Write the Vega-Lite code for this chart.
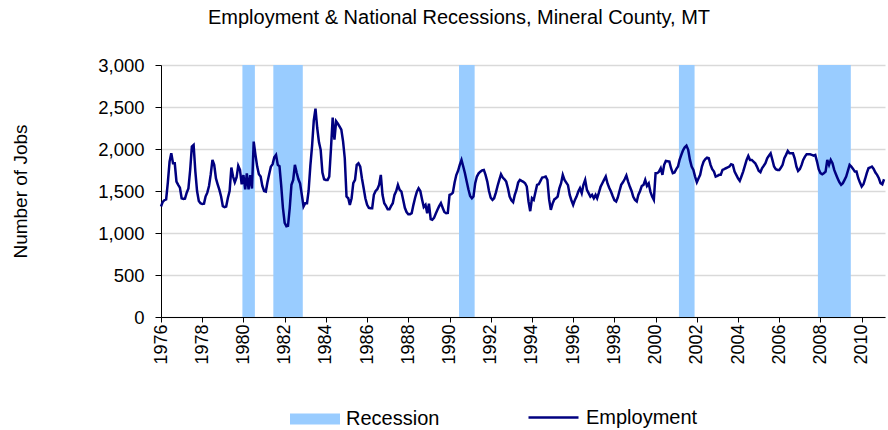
{
  "$schema": "https://vega.github.io/schema/vega-lite/v6.json",
  "width": 724,
  "height": 252,
  "autosize": {"type": "none"},
  "padding": {"left": 161, "top": 65, "right": 3, "bottom": 113},
  "background": "white",
  "title": {"text": "Employment & National Recessions, Mineral County, MT", "font": "Liberation Sans", "fontSize": 20, "fontWeight": "normal", "color": "black", "anchor": "middle", "frame": "group", "dx": -64, "offset": 28},
  "config": {
    "view": {"stroke": null},
    "font": "Liberation Sans",
    "axis": {"labelFont": "Liberation Sans", "titleFont": "Liberation Sans", "labelColor": "black", "titleColor": "black", "domainColor": "black", "tickColor": "black", "domainWidth": 1, "tickWidth": 1},
    "legend": {"labelFont": "Liberation Sans", "labelColor": "black"}
  },
  "datasets": {
    "recessions": [
      {"start": "1979-12-14", "end": "1980-07-22"},
      {"start": "1981-06-14", "end": "1982-11-18"},
      {"start": "1990-06-18", "end": "1991-03-22"},
      {"start": "2001-02-18", "end": "2001-11-22"},
      {"start": "2007-11-17", "end": "2009-06-22"}
    ],
    "employment": [
      {"date":"1976-01","jobs":1315},{"date":"1976-02","jobs":1370},{"date":"1976-03","jobs":1390},{"date":"1976-04","jobs":1400},{"date":"1976-05","jobs":1600},{"date":"1976-06","jobs":1850},{"date":"1976-07","jobs":1949},{"date":"1976-08","jobs":1830},{"date":"1976-09","jobs":1830},{"date":"1976-10","jobs":1612},{"date":"1976-11","jobs":1573},{"date":"1976-12","jobs":1540},
      {"date":"1977-01","jobs":1414},{"date":"1977-02","jobs":1406},{"date":"1977-03","jobs":1410},{"date":"1977-04","jobs":1480},{"date":"1977-05","jobs":1530},{"date":"1977-06","jobs":1750},{"date":"1977-07","jobs":2029},{"date":"1977-08","jobs":2048},{"date":"1977-09","jobs":1731},{"date":"1977-10","jobs":1500},{"date":"1977-11","jobs":1380},{"date":"1977-12","jobs":1355},
      {"date":"1978-01","jobs":1345},{"date":"1978-02","jobs":1350},{"date":"1978-03","jobs":1434},{"date":"1978-04","jobs":1480},{"date":"1978-05","jobs":1560},{"date":"1978-06","jobs":1700},{"date":"1978-07","jobs":1870},{"date":"1978-08","jobs":1811},{"date":"1978-09","jobs":1650},{"date":"1978-10","jobs":1580},{"date":"1978-11","jobs":1513},{"date":"1978-12","jobs":1434},
      {"date":"1979-01","jobs":1320},{"date":"1979-02","jobs":1307},{"date":"1979-03","jobs":1315},{"date":"1979-04","jobs":1420},{"date":"1979-05","jobs":1500},{"date":"1979-06","jobs":1779},{"date":"1979-07","jobs":1672},{"date":"1979-08","jobs":1604},{"date":"1979-09","jobs":1660},{"date":"1979-10","jobs":1799},{"date":"1979-11","jobs":1751},{"date":"1979-12","jobs":1580},
      {"date":"1980-01","jobs":1690},{"date":"1980-02","jobs":1520},{"date":"1980-03","jobs":1710},{"date":"1980-04","jobs":1520},{"date":"1980-05","jobs":1690},{"date":"1980-06","jobs":1530},{"date":"1980-07","jobs":2088},{"date":"1980-08","jobs":1930},{"date":"1980-09","jobs":1790},{"date":"1980-10","jobs":1700},{"date":"1980-11","jobs":1672},{"date":"1980-12","jobs":1560},
      {"date":"1981-01","jobs":1500},{"date":"1981-02","jobs":1493},{"date":"1981-03","jobs":1600},{"date":"1981-04","jobs":1700},{"date":"1981-05","jobs":1790},{"date":"1981-06","jobs":1820},{"date":"1981-07","jobs":1900},{"date":"1981-08","jobs":1930},{"date":"1981-09","jobs":1811},{"date":"1981-10","jobs":1795},{"date":"1981-11","jobs":1560},{"date":"1981-12","jobs":1300},
      {"date":"1982-01","jobs":1120},{"date":"1982-02","jobs":1080},{"date":"1982-03","jobs":1085},{"date":"1982-04","jobs":1300},{"date":"1982-05","jobs":1573},{"date":"1982-06","jobs":1632},{"date":"1982-07","jobs":1811},{"date":"1982-08","jobs":1720},{"date":"1982-09","jobs":1640},{"date":"1982-10","jobs":1590},{"date":"1982-11","jobs":1454},{"date":"1982-12","jobs":1315},
      {"date":"1983-01","jobs":1355},{"date":"1983-02","jobs":1355},{"date":"1983-03","jobs":1500},{"date":"1983-04","jobs":1800},{"date":"1983-05","jobs":2030},{"date":"1983-06","jobs":2340},{"date":"1983-07","jobs":2480},{"date":"1983-08","jobs":2250},{"date":"1983-09","jobs":2080},{"date":"1983-10","jobs":1990},{"date":"1983-11","jobs":1720},{"date":"1983-12","jobs":1640},
      {"date":"1984-01","jobs":1632},{"date":"1984-02","jobs":1632},{"date":"1984-03","jobs":1672},{"date":"1984-04","jobs":2009},{"date":"1984-05","jobs":2373},{"date":"1984-06","jobs":2110},{"date":"1984-07","jobs":2330},{"date":"1984-08","jobs":2300},{"date":"1984-09","jobs":2266},{"date":"1984-10","jobs":2230},{"date":"1984-11","jobs":2090},{"date":"1984-12","jobs":1890},
      {"date":"1985-01","jobs":1434},{"date":"1985-02","jobs":1414},{"date":"1985-03","jobs":1335},{"date":"1985-04","jobs":1414},{"date":"1985-05","jobs":1593},{"date":"1985-06","jobs":1632},{"date":"1985-07","jobs":1811},{"date":"1985-08","jobs":1830},{"date":"1985-09","jobs":1791},{"date":"1985-10","jobs":1652},{"date":"1985-11","jobs":1533},{"date":"1985-12","jobs":1414},
      {"date":"1986-01","jobs":1335},{"date":"1986-02","jobs":1300},{"date":"1986-03","jobs":1295},{"date":"1986-04","jobs":1295},{"date":"1986-05","jobs":1454},{"date":"1986-06","jobs":1501},{"date":"1986-07","jobs":1521},{"date":"1986-08","jobs":1573},{"date":"1986-09","jobs":1692},{"date":"1986-10","jobs":1454},{"date":"1986-11","jobs":1355},{"date":"1986-12","jobs":1323},
      {"date":"1987-01","jobs":1283},{"date":"1987-02","jobs":1283},{"date":"1987-03","jobs":1320},{"date":"1987-04","jobs":1355},{"date":"1987-05","jobs":1454},{"date":"1987-06","jobs":1500},{"date":"1987-07","jobs":1573},{"date":"1987-08","jobs":1513},{"date":"1987-09","jobs":1493},{"date":"1987-10","jobs":1400},{"date":"1987-11","jobs":1300},{"date":"1987-12","jobs":1250},
      {"date":"1988-01","jobs":1224},{"date":"1988-02","jobs":1224},{"date":"1988-03","jobs":1236},{"date":"1988-04","jobs":1335},{"date":"1988-05","jobs":1420},{"date":"1988-06","jobs":1493},{"date":"1988-07","jobs":1533},{"date":"1988-08","jobs":1500},{"date":"1988-09","jobs":1400},{"date":"1988-10","jobs":1310},{"date":"1988-11","jobs":1335},{"date":"1988-12","jobs":1236},
      {"date":"1989-01","jobs":1350},{"date":"1989-02","jobs":1165},{"date":"1989-03","jobs":1157},{"date":"1989-04","jobs":1180},{"date":"1989-05","jobs":1230},{"date":"1989-06","jobs":1276},{"date":"1989-07","jobs":1320},{"date":"1989-08","jobs":1355},{"date":"1989-09","jobs":1300},{"date":"1989-10","jobs":1250},{"date":"1989-11","jobs":1236},{"date":"1989-12","jobs":1240},
      {"date":"1990-01","jobs":1454},{"date":"1990-02","jobs":1462},{"date":"1990-03","jobs":1480},{"date":"1990-04","jobs":1600},{"date":"1990-05","jobs":1690},{"date":"1990-06","jobs":1740},{"date":"1990-07","jobs":1811},{"date":"1990-08","jobs":1870},{"date":"1990-09","jobs":1791},{"date":"1990-10","jobs":1712},{"date":"1990-11","jobs":1612},{"date":"1990-12","jobs":1520},
      {"date":"1991-01","jobs":1440},{"date":"1991-02","jobs":1414},{"date":"1991-03","jobs":1434},{"date":"1991-04","jobs":1593},{"date":"1991-05","jobs":1672},{"date":"1991-06","jobs":1710},{"date":"1991-07","jobs":1731},{"date":"1991-08","jobs":1745},{"date":"1991-09","jobs":1751},{"date":"1991-10","jobs":1692},{"date":"1991-11","jobs":1612},{"date":"1991-12","jobs":1500},
      {"date":"1992-01","jobs":1420},{"date":"1992-02","jobs":1394},{"date":"1992-03","jobs":1414},{"date":"1992-04","jobs":1480},{"date":"1992-05","jobs":1560},{"date":"1992-06","jobs":1632},{"date":"1992-07","jobs":1700},{"date":"1992-08","jobs":1660},{"date":"1992-09","jobs":1640},{"date":"1992-10","jobs":1612},{"date":"1992-11","jobs":1533},{"date":"1992-12","jobs":1434},
      {"date":"1993-01","jobs":1390},{"date":"1993-02","jobs":1367},{"date":"1993-03","jobs":1450},{"date":"1993-04","jobs":1513},{"date":"1993-05","jobs":1600},{"date":"1993-06","jobs":1632},{"date":"1993-07","jobs":1620},{"date":"1993-08","jobs":1610},{"date":"1993-09","jobs":1593},{"date":"1993-10","jobs":1553},{"date":"1993-11","jobs":1375},{"date":"1993-12","jobs":1260},
      {"date":"1994-01","jobs":1414},{"date":"1994-02","jobs":1394},{"date":"1994-03","jobs":1480},{"date":"1994-04","jobs":1573},{"date":"1994-05","jobs":1580},{"date":"1994-06","jobs":1620},{"date":"1994-07","jobs":1660},{"date":"1994-08","jobs":1665},{"date":"1994-09","jobs":1672},{"date":"1994-10","jobs":1632},{"date":"1994-11","jobs":1400},{"date":"1994-12","jobs":1276},
      {"date":"1995-01","jobs":1350},{"date":"1995-02","jobs":1400},{"date":"1995-03","jobs":1414},{"date":"1995-04","jobs":1434},{"date":"1995-05","jobs":1533},{"date":"1995-06","jobs":1593},{"date":"1995-07","jobs":1692},{"date":"1995-08","jobs":1632},{"date":"1995-09","jobs":1600},{"date":"1995-10","jobs":1570},{"date":"1995-11","jobs":1454},{"date":"1995-12","jobs":1390},
      {"date":"1996-01","jobs":1335},{"date":"1996-02","jobs":1394},{"date":"1996-03","jobs":1434},{"date":"1996-04","jobs":1493},{"date":"1996-05","jobs":1533},{"date":"1996-06","jobs":1474},{"date":"1996-07","jobs":1573},{"date":"1996-08","jobs":1632},{"date":"1996-09","jobs":1513},{"date":"1996-10","jobs":1474},{"date":"1996-11","jobs":1434},{"date":"1996-12","jobs":1454},
      {"date":"1997-01","jobs":1414},{"date":"1997-02","jobs":1454},{"date":"1997-03","jobs":1414},{"date":"1997-04","jobs":1480},{"date":"1997-05","jobs":1550},{"date":"1997-06","jobs":1593},{"date":"1997-07","jobs":1632},{"date":"1997-08","jobs":1672},{"date":"1997-09","jobs":1590},{"date":"1997-10","jobs":1540},{"date":"1997-11","jobs":1493},{"date":"1997-12","jobs":1440},
      {"date":"1998-01","jobs":1390},{"date":"1998-02","jobs":1375},{"date":"1998-03","jobs":1420},{"date":"1998-04","jobs":1500},{"date":"1998-05","jobs":1573},{"date":"1998-06","jobs":1604},{"date":"1998-07","jobs":1640},{"date":"1998-08","jobs":1684},{"date":"1998-09","jobs":1612},{"date":"1998-10","jobs":1553},{"date":"1998-11","jobs":1500},{"date":"1998-12","jobs":1430},
      {"date":"1999-01","jobs":1394},{"date":"1999-02","jobs":1375},{"date":"1999-03","jobs":1454},{"date":"1999-04","jobs":1500},{"date":"1999-05","jobs":1560},{"date":"1999-06","jobs":1573},{"date":"1999-07","jobs":1632},{"date":"1999-08","jobs":1560},{"date":"1999-09","jobs":1590},{"date":"1999-10","jobs":1493},{"date":"1999-11","jobs":1434},{"date":"1999-12","jobs":1394},
      {"date":"2000-01","jobs":1712},{"date":"2000-02","jobs":1715},{"date":"2000-03","jobs":1730},{"date":"2000-04","jobs":1771},{"date":"2000-05","jobs":1692},{"date":"2000-06","jobs":1811},{"date":"2000-07","jobs":1858},{"date":"2000-08","jobs":1855},{"date":"2000-09","jobs":1850},{"date":"2000-10","jobs":1771},{"date":"2000-11","jobs":1712},{"date":"2000-12","jobs":1720},
      {"date":"2001-01","jobs":1760},{"date":"2001-02","jobs":1791},{"date":"2001-03","jobs":1870},{"date":"2001-04","jobs":1930},{"date":"2001-05","jobs":1985},{"date":"2001-06","jobs":2020},{"date":"2001-07","jobs":2040},{"date":"2001-08","jobs":1990},{"date":"2001-09","jobs":1870},{"date":"2001-10","jobs":1791},{"date":"2001-11","jobs":1751},{"date":"2001-12","jobs":1672},
      {"date":"2002-01","jobs":1604},{"date":"2002-02","jobs":1652},{"date":"2002-03","jobs":1692},{"date":"2002-04","jobs":1791},{"date":"2002-05","jobs":1850},{"date":"2002-06","jobs":1880},{"date":"2002-07","jobs":1898},{"date":"2002-08","jobs":1890},{"date":"2002-09","jobs":1811},{"date":"2002-10","jobs":1760},{"date":"2002-11","jobs":1731},{"date":"2002-12","jobs":1672},
      {"date":"2003-01","jobs":1680},{"date":"2003-02","jobs":1692},{"date":"2003-03","jobs":1692},{"date":"2003-04","jobs":1751},{"date":"2003-05","jobs":1760},{"date":"2003-06","jobs":1771},{"date":"2003-07","jobs":1780},{"date":"2003-08","jobs":1791},{"date":"2003-09","jobs":1819},{"date":"2003-10","jobs":1811},{"date":"2003-11","jobs":1731},{"date":"2003-12","jobs":1692},
      {"date":"2004-01","jobs":1650},{"date":"2004-02","jobs":1620},{"date":"2004-03","jobs":1672},{"date":"2004-04","jobs":1731},{"date":"2004-05","jobs":1800},{"date":"2004-06","jobs":1870},{"date":"2004-07","jobs":1918},{"date":"2004-08","jobs":1870},{"date":"2004-09","jobs":1870},{"date":"2004-10","jobs":1850},{"date":"2004-11","jobs":1830},{"date":"2004-12","jobs":1791},
      {"date":"2005-01","jobs":1740},{"date":"2005-02","jobs":1723},{"date":"2005-03","jobs":1771},{"date":"2005-04","jobs":1800},{"date":"2005-05","jobs":1830},{"date":"2005-06","jobs":1890},{"date":"2005-07","jobs":1920},{"date":"2005-08","jobs":1949},{"date":"2005-09","jobs":1870},{"date":"2005-10","jobs":1791},{"date":"2005-11","jobs":1760},{"date":"2005-12","jobs":1751},
      {"date":"2006-01","jobs":1751},{"date":"2006-02","jobs":1780},{"date":"2006-03","jobs":1811},{"date":"2006-04","jobs":1890},{"date":"2006-05","jobs":1930},{"date":"2006-06","jobs":1977},{"date":"2006-07","jobs":1949},{"date":"2006-08","jobs":1950},{"date":"2006-09","jobs":1949},{"date":"2006-10","jobs":1890},{"date":"2006-11","jobs":1791},{"date":"2006-12","jobs":1739},
      {"date":"2007-01","jobs":1760},{"date":"2007-02","jobs":1811},{"date":"2007-03","jobs":1870},{"date":"2007-04","jobs":1910},{"date":"2007-05","jobs":1937},{"date":"2007-06","jobs":1937},{"date":"2007-07","jobs":1937},{"date":"2007-08","jobs":1930},{"date":"2007-09","jobs":1922},{"date":"2007-10","jobs":1930},{"date":"2007-11","jobs":1850},{"date":"2007-12","jobs":1760},
      {"date":"2008-01","jobs":1712},{"date":"2008-02","jobs":1700},{"date":"2008-03","jobs":1712},{"date":"2008-04","jobs":1731},{"date":"2008-05","jobs":1870},{"date":"2008-06","jobs":1811},{"date":"2008-07","jobs":1870},{"date":"2008-08","jobs":1830},{"date":"2008-09","jobs":1751},{"date":"2008-10","jobs":1700},{"date":"2008-11","jobs":1650},{"date":"2008-12","jobs":1604},
      {"date":"2009-01","jobs":1573},{"date":"2009-02","jobs":1593},{"date":"2009-03","jobs":1630},{"date":"2009-04","jobs":1672},{"date":"2009-05","jobs":1739},{"date":"2009-06","jobs":1811},{"date":"2009-07","jobs":1791},{"date":"2009-08","jobs":1763},{"date":"2009-09","jobs":1731},{"date":"2009-10","jobs":1731},{"date":"2009-11","jobs":1652},{"date":"2009-12","jobs":1600},
      {"date":"2010-01","jobs":1553},{"date":"2010-02","jobs":1580},{"date":"2010-03","jobs":1640},{"date":"2010-04","jobs":1712},{"date":"2010-05","jobs":1771},{"date":"2010-06","jobs":1780},{"date":"2010-07","jobs":1791},{"date":"2010-08","jobs":1763},{"date":"2010-09","jobs":1720},{"date":"2010-10","jobs":1692},{"date":"2010-11","jobs":1652},{"date":"2010-12","jobs":1593},
      {"date":"2011-01","jobs":1580},{"date":"2011-02","jobs":1640}
    ]
  },
  "layer": [
    {
      "data": {"name": "recessions"},
      "mark": {"type": "rect"},
      "encoding": {
        "x": {"field": "start", "type": "temporal", "title": null},
        "x2": {"field": "end"},
        "fill": {"datum": "Recession", "type": "nominal", "scale": {"domain": ["Recession"], "range": ["#99CCFF"]},
          "legend": {"orient": "none", "legendX": 129, "legendY": 329, "title": null, "padding": 0, "symbolType": "M-1,-0.22H1V0.22H-1Z", "symbolSize": 2500, "symbolStrokeWidth": 0, "symbolOpacity": 1, "labelFontSize": 20, "labelOffset": 6}}
      }
    },
    {
      "data": {"name": "employment"},
      "mark": {"type": "line", "strokeWidth": 2.5, "interpolate": "linear"},
      "encoding": {
        "x": {"field": "date", "type": "temporal", "title": null,
          "scale": {"type": "utc", "domain": [{"year": 1976, "month": 1, "date": 1, "utc": true}, {"year": 2011, "month": 2, "date": 18, "utc": true}]},
          "axis": {"values": [
            {"year":1976,"utc":true},{"year":1977,"utc":true},{"year":1978,"utc":true},{"year":1979,"utc":true},{"year":1980,"utc":true},{"year":1981,"utc":true},{"year":1982,"utc":true},{"year":1983,"utc":true},{"year":1984,"utc":true},{"year":1985,"utc":true},{"year":1986,"utc":true},{"year":1987,"utc":true},{"year":1988,"utc":true},{"year":1989,"utc":true},{"year":1990,"utc":true},{"year":1991,"utc":true},{"year":1992,"utc":true},{"year":1993,"utc":true},{"year":1994,"utc":true},{"year":1995,"utc":true},{"year":1996,"utc":true},{"year":1997,"utc":true},{"year":1998,"utc":true},{"year":1999,"utc":true},{"year":2000,"utc":true},{"year":2001,"utc":true},{"year":2002,"utc":true},{"year":2003,"utc":true},{"year":2004,"utc":true},{"year":2005,"utc":true},{"year":2006,"utc":true},{"year":2007,"utc":true},{"year":2008,"utc":true},{"year":2009,"utc":true},{"year":2010,"utc":true},{"year":2011,"utc":true}],
            "labelExpr": "utcyear(datum.value) % 2 === 0 ? utcFormat(datum.value, '%Y') : ''",
            "labelAngle": 270, "labelFontSize": 18, "labelPadding": 2, "tickSize": 5, "grid": false, "labelOverlap": false, "labelFlush": false}},
        "y": {"field": "jobs", "type": "quantitative", "title": "Number of Jobs",
          "scale": {"domain": [0, 3000], "nice": false},
          "axis": {"values": [0, 500, 1000, 1500, 2000, 2500, 3000], "format": ",d", "labelFontSize": 18.5, "labelPadding": 11, "tickSize": 6, "grid": true, "gridColor": "#d9d9d9", "gridWidth": 1.3,
            "titleFontSize": 19, "titleFontWeight": "normal", "titleX": -141, "titleY": 126, "titleAlign": "center", "titleBaseline": "middle", "titleAngle": 270}},
        "stroke": {"datum": "Employment", "type": "nominal", "scale": {"domain": ["Employment"], "range": ["#000080"]},
          "legend": {"orient": "none", "legendX": 366, "legendY": 326, "title": null, "padding": 0, "symbolType": "stroke", "symbolSize": 2500, "symbolStrokeWidth": 2.5, "labelFontSize": 20, "labelOffset": 6}}
      }
    }
  ]
}
